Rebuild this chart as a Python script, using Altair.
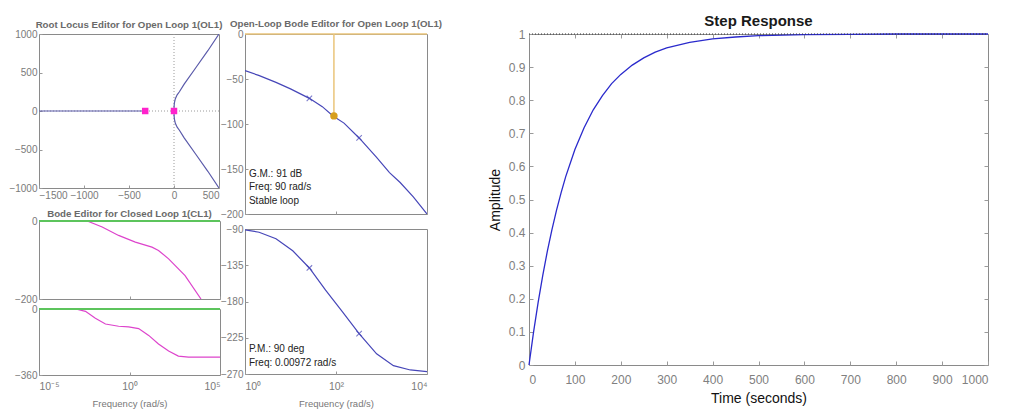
import altair as alt
import pandas as pd

# ---------------- data ----------------
# Root locus
RL_REAL_X = [-1500, -320]
RL_REAL_Y = [0, 0]
RL_UP_X = [0, 1, 5, 15, 35, 60, 113, 244, 376, 500]
RL_UP_Y = [0, 60, 110, 160, 210, 250, 348, 565, 783, 1000]
RL_LOW_X = [0, 1, 5, 15, 35, 60, 113, 244, 376, 500]
RL_LOW_Y = [0, -60, -110, -160, -210, -250, -348, -565, -783, -1000]
RL_POLE_X = [-320, 0]
RL_POLE_Y = [0, 0]
RL_X_TICKS = [-1500, -1000, -500, 0, 500]
RL_Y_TICKS = [-1000, -500, 0, 500, 1000]

# Open-loop Bode magnitude
OLM_FREQ = [1, 2, 4.8, 10, 26, 50, 86, 150, 322, 780, 1500, 2570, 5000, 10000]
OLM_DB = [-40.7, -46, -53.7, -61, -71.5, -80.7, -91, -99, -115.5, -137, -154, -165, -181, -200]
OLM_MARK_FREQ = [26, 322]
OLM_MARK_DB = [-71.5, -115.5]
GM_FREQ = [90]
GM_DB = [-91]
OLM_Y_TICKS = [-200, -150, -100, -50, 0]
OLM_TEXT = ["G.M.: 91 dB", "Freq: 90 rad/s", "Stable loop"]
OLM_TEXT_Y = [-155, -170.5, -186]

# Open-loop Bode phase
OLP_FREQ = [1, 2.04, 4.8, 11.2, 26, 59, 139, 322, 780, 1830, 4300, 10000]
OLP_DEG = [-91, -94, -102, -117, -138.4, -166, -193, -220, -245, -259.6, -265, -267]
OLP_MARK_FREQ = [26, 322]
OLP_MARK_DEG = [-138.4, -220]
OLP_Y_TICKS = [-270, -225, -180, -135, -90]
OL_X_TICKS = [1, 100, 10000]
OLP_TEXT = ["P.M.: 90 deg", "Freq: 0.00972 rad/s"]
OLP_TEXT_Y = [-238.5, -256.5]

# Closed-loop Bode
CLM_FREQ = [1e-5, 4.6e-3, 0.031, 0.25, 2.1, 17.4, 40, 145, 1175, 8900]
CLM_DB = [0, 0, -15.5, -37, -54, -67, -75.5, -97, -140, -200]
CLP_FREQ = [1e-5, 1.05e-3, 3.7e-3, 0.013, 0.047, 0.25, 0.89, 3.2, 11.5, 40, 145, 500, 1820, 1e5]
CLP_DEG = [0, 0, -13, -51, -82, -94, -98, -107, -144, -191, -229, -257, -263, -263]
CL_X_TICKS = [1e-5, 1, 1e5]
CLM_Y_TICKS = [-200, -100, 0]
CLP_Y_TICKS = [-360, -180, 0]

# Step response
STEP_T = [0, 10, 20, 30, 40, 50, 60, 70, 80, 100, 120, 140, 160, 180, 200, 225, 250,
          275, 300, 350, 400, 450, 500, 600, 700, 800, 900, 1000]
STEP_A = [0, 0.100, 0.190, 0.271, 0.344, 0.409, 0.468, 0.521, 0.569, 0.651, 0.717, 0.771,
          0.814, 0.850, 0.878, 0.906, 0.928, 0.945, 0.958, 0.975, 0.985, 0.991, 0.995,
          0.998, 0.999, 1.0, 1.0, 1.0]
STEP_X_TICKS = [0, 100, 200, 300, 400, 500, 600, 700, 800, 900, 1000]
STEP_Y_TICKS = [0, 0.1, 0.2, 0.3, 0.4, 0.5, 0.6, 0.7, 0.8, 0.9, 1]

# Panel headings
RL_TITLE = ["Root Locus Editor for Open Loop 1(OL1)"]
CL_TITLE = ["Bode Editor for Closed Loop 1(CL1)"]
OL_TITLE = ["Open-Loop Bode Editor for Open Loop 1(OL1)"]
STEP_TITLE = ["Step Response"]

# ---------------- styles ----------------
FONT = "Liberation Sans"
LABEL_GRAY = "#7a7a7a"
BLUE = "#4646b8"
STEP_BLUE = "#2a2acc"
MAGENTA = "#dd44cc"
GREEN = "#5cc45c"
ORANGE_LINE = "#eac57a"
ORANGE_DOT = "#d69e1e"
POLE = "#ff22cc"
XSHAPE = "M-1,-1L1,1M-1,1L1,-1"

LOG_EXPR = ("(round(log(datum.value)/LN10) == -5) ? '10\u207b\u2075' : "
            "(round(log(datum.value)/LN10) == 0) ? '10\u2070' : "
            "(round(log(datum.value)/LN10) == 2) ? '10\u00b2' : "
            "(round(log(datum.value)/LN10) == 4) ? '10\u2074' : '10\u2075'")


def axis(values, labels=True, label_expr=None, fmt=None, size=10, tick=3,
         title_size=9.5, title_color="#777777", orient=None, label_color=LABEL_GRAY,
         title_pad=3, label_pad=2):
    kw = dict(values=values, grid=False, domain=False, ticks=True, tickSize=tick,
              offset=-tick, tickColor="#9a9a9a", labels=labels, labelFont=FONT,
              labelFontSize=size, labelColor=label_color, labelPadding=label_pad,
              titleFont=FONT, titleFontSize=title_size, titleColor=title_color,
              titleFontWeight="normal", titlePadding=title_pad, labelOverlap=False)
    if label_expr:
        kw["labelExpr"] = label_expr
    if fmt:
        kw["format"] = fmt
    if orient:
        kw["orient"] = orient
    return alt.Axis(**kw)


def heading(text, px, py, size=9.7, bold=True, color="#6a6a6a"):
    return alt.Chart(pd.DataFrame({"t": text})).mark_text(
        font=FONT, fontSize=size, fontWeight="bold" if bold else "normal", color=color,
        align="center", baseline="middle").encode(
        x=alt.value(px), y=alt.value(py), text="t:N")


def anchor(px, py):
    # tiny white layout anchor that fixes the bounds used by the concat layout
    return alt.Chart(pd.DataFrame({"a": [0]})).mark_square(
        size=1, color="white", opacity=1).encode(x=alt.value(px), y=alt.value(py))


# ---------------- root locus ----------------
rl_x = alt.Scale(domain=[-1500, 500], nice=False)
rl_y = alt.Scale(domain=[-1000, 1000], nice=False)
X_RL = alt.X("x:Q", scale=rl_x, axis=axis(RL_X_TICKS, fmt="d"), title=None)
Y_RL = alt.Y("y:Q", scale=rl_y, axis=axis(RL_Y_TICKS, fmt="d"), title=None)

rl_zero = pd.DataFrame({"x": [0], "y": [0]})
rl_vdot = alt.Chart(rl_zero).mark_rule(color="#9a9a9a", strokeDash=[1, 2]).encode(x=X_RL)
rl_hdot = alt.Chart(rl_zero).mark_rule(color="#9a9a9a", strokeDash=[1, 2]).encode(y=Y_RL)
rl_real = alt.Chart(pd.DataFrame({"x": RL_REAL_X, "y": RL_REAL_Y})).mark_line(
    color="#5a5aaa", strokeWidth=1.2).encode(x=X_RL, y=Y_RL)
rl_up = alt.Chart(pd.DataFrame({"x": RL_UP_X, "y": RL_UP_Y, "o": range(len(RL_UP_X))})).mark_line(
    color="#5a5aaa", strokeWidth=1.2, clip=True).encode(x=X_RL, y=Y_RL, order="o:Q")
rl_low = alt.Chart(pd.DataFrame({"x": RL_LOW_X, "y": RL_LOW_Y, "o": range(len(RL_LOW_X))})).mark_line(
    color="#5a5aaa", strokeWidth=1.2, clip=True).encode(x=X_RL, y=Y_RL, order="o:Q")
rl_poles = alt.Chart(pd.DataFrame({"x": RL_POLE_X, "y": RL_POLE_Y})).mark_square(
    color=POLE, size=42, opacity=1).encode(x=X_RL, y=Y_RL)
root_locus = alt.layer(rl_vdot, rl_hdot, rl_real, rl_up, rl_low, rl_poles,
                       heading(RL_TITLE, 90, -9.5),
                       anchor(-29, -25), anchor(190, -25)).properties(width=180, height=154)

spacer = alt.Chart(pd.DataFrame({"a": [0]})).mark_square(size=1, opacity=0).encode(
    x=alt.value(0), y=alt.value(0)).properties(
    width=181, height=13, view=alt.ViewBackground(stroke="transparent"))

# ---------------- closed-loop Bode ----------------
cl_x = alt.Scale(type="log", domain=[1e-5, 1e5], nice=False)
clm_y = alt.Scale(domain=[-200, 0], nice=False)
clp_y = alt.Scale(domain=[-360, 0], nice=False)

clm_line = alt.Chart(pd.DataFrame({"f": CLM_FREQ, "v": CLM_DB})).mark_line(
    color=MAGENTA, strokeWidth=1.2, clip=True).encode(
    x=alt.X("f:Q", scale=cl_x, axis=axis(CL_X_TICKS, labels=False), title=None),
    y=alt.Y("v:Q", scale=clm_y, axis=axis(CLM_Y_TICKS, fmt="d"), title=None))
clm_green = alt.Chart(pd.DataFrame({"v": [0]})).mark_rule(color=GREEN, strokeWidth=2).encode(
    y=alt.Y("v:Q", scale=clm_y))
cl_mag = alt.layer(clm_line, clm_green, heading(CL_TITLE, 90.5, -7)).properties(
    width=181, height=78)

clp_line = alt.Chart(pd.DataFrame({"f": CLP_FREQ, "v": CLP_DEG})).mark_line(
    color=MAGENTA, strokeWidth=1.2, clip=True).encode(
    x=alt.X("f:Q", scale=cl_x, axis=axis(CL_X_TICKS, label_expr=LOG_EXPR, size=10.5,
                                          label_pad=6, title_pad=7),
            title="Frequency (rad/s)"),
    y=alt.Y("v:Q", scale=clp_y, axis=axis(CLP_Y_TICKS, fmt="d"), title=None))
clp_green = alt.Chart(pd.DataFrame({"v": [0]})).mark_rule(color=GREEN, strokeWidth=2).encode(
    y=alt.Y("v:Q", scale=clp_y))
cl_phase = alt.layer(clp_line, clp_green).properties(width=181, height=66)

# ---------------- open-loop Bode ----------------
ol_x = alt.Scale(type="log", domain=[1, 1e4], nice=False)
olm_y = alt.Scale(domain=[-200, 0], nice=False)
olp_y = alt.Scale(domain=[-270, -90], nice=False)
X_OLM = alt.X("f:Q", scale=ol_x, axis=axis(OL_X_TICKS, labels=False), title=None)
Y_OLM = alt.Y("v:Q", scale=olm_y, axis=axis(OLM_Y_TICKS, fmt="d"), title=None)

olm_top = alt.Chart(pd.DataFrame({"v": [0]})).mark_rule(color=ORANGE_LINE, strokeWidth=1.5).encode(
    y=Y_OLM)
olm_vert = alt.Chart(pd.DataFrame({"f": GM_FREQ, "v": [0], "v2": GM_DB})).mark_rule(
    color=ORANGE_LINE, strokeWidth=1.5).encode(x=X_OLM, y=Y_OLM, y2="v2:Q")
olm_line = alt.Chart(pd.DataFrame({"f": OLM_FREQ, "v": OLM_DB})).mark_line(
    color=BLUE, strokeWidth=1.2, clip=True).encode(x=X_OLM, y=Y_OLM)
olm_marks = alt.Chart(pd.DataFrame({"f": OLM_MARK_FREQ, "v": OLM_MARK_DB})).mark_point(
    shape=XSHAPE, size=30, color=BLUE, strokeWidth=1.1).encode(x=X_OLM, y=Y_OLM)
olm_dot = alt.Chart(pd.DataFrame({"f": GM_FREQ, "v": GM_DB})).mark_circle(
    color=ORANGE_DOT, size=55, opacity=1).encode(x=X_OLM, y=Y_OLM)
olm_text = alt.Chart(pd.DataFrame({"f": [1.22] * 3, "v": OLM_TEXT_Y, "t": OLM_TEXT})).mark_text(
    align="left", baseline="middle", font=FONT, fontSize=10, color="#222222").encode(
    x=X_OLM, y=Y_OLM, text="t:N")
ol_mag = alt.layer(olm_top, olm_vert, olm_line, olm_marks, olm_dot, olm_text,
                   heading(OL_TITLE, 91, -10),
                   anchor(-28, -25), anchor(207, -25)).properties(width=182, height=180)

X_OLP = alt.X("f:Q", scale=ol_x, axis=axis(OL_X_TICKS, label_expr=LOG_EXPR, size=10.5,
                                           label_pad=7, title_pad=7),
              title="Frequency (rad/s)")
Y_OLP = alt.Y("v:Q", scale=olp_y, axis=axis(OLP_Y_TICKS, fmt="d"), title=None)
olp_line = alt.Chart(pd.DataFrame({"f": OLP_FREQ, "v": OLP_DEG})).mark_line(
    color=BLUE, strokeWidth=1.2, clip=True).encode(x=X_OLP, y=Y_OLP)
olp_marks = alt.Chart(pd.DataFrame({"f": OLP_MARK_FREQ, "v": OLP_MARK_DEG})).mark_point(
    shape=XSHAPE, size=30, color=BLUE, strokeWidth=1.1).encode(x=X_OLP, y=Y_OLP)
olp_text = alt.Chart(pd.DataFrame({"f": [1.22] * 2, "v": OLP_TEXT_Y, "t": OLP_TEXT})).mark_text(
    align="left", baseline="middle", font=FONT, fontSize=10, color="#222222").encode(
    x=X_OLP, y=Y_OLP, text="t:N")
ol_phase = alt.layer(olp_line, olp_marks, olp_text).properties(width=182, height=145)

# ---------------- step response ----------------
st_x = alt.Scale(domain=[0, 1000], nice=False)
st_y = alt.Scale(domain=[0, 1], nice=False)
step_line = alt.Chart(pd.DataFrame({"t": STEP_T, "a": STEP_A})).mark_line(
    color=STEP_BLUE, strokeWidth=1.3).encode(
    x=alt.X("t:Q", scale=st_x, title="Time (seconds)",
            axis=axis(STEP_X_TICKS, size=12, tick=4, title_size=14, title_color="#111111",
                      label_color="#808080", fmt="d", title_pad=6, label_pad=9)),
    y=alt.Y("a:Q", scale=st_y, title="Amplitude",
            axis=axis(STEP_Y_TICKS, size=12, tick=4, title_size=14, title_color="#111111",
                      label_color="#808080", fmt="~g", title_pad=6, label_pad=4)))
step_ref = alt.Chart(pd.DataFrame({"t": [0], "t2": [1000], "a": [1]})).mark_rule(
    color="#333333", strokeDash=[1, 2], strokeWidth=1).encode(
    x=alt.X("t:Q", scale=st_x, title=None,
            axis=axis(STEP_X_TICKS, labels=False, tick=4, orient="top")),
    x2="t2:Q",
    y=alt.Y("a:Q", scale=st_y, title=None,
            axis=axis(STEP_Y_TICKS, labels=False, tick=4, orient="right")))
step = alt.layer(step_line, step_ref,
                 heading(STEP_TITLE, 229.5, -13, size=15, color="#1a1a1a"),
                 anchor(-50, -25)).resolve_axis(
    x="independent", y="independent").properties(width=459, height=331)

# ---------------- layout ----------------
left_col = alt.vconcat(root_locus, spacer, cl_mag, cl_phase, spacing=10, bounds="flush")
mid_col = alt.vconcat(ol_mag, ol_phase, spacing=15, bounds="flush")
chart = alt.hconcat(alt.hconcat(left_col, mid_col, spacing=-14), step,
                    spacing=25).properties(
    padding={"left": 0, "top": 0, "right": 5, "bottom": 0},
    background="white",
).configure_view(stroke="#8a8a8a", strokeWidth=1)

chart.save("out.html", embed_options={"renderer": "svg", "actions": False})
